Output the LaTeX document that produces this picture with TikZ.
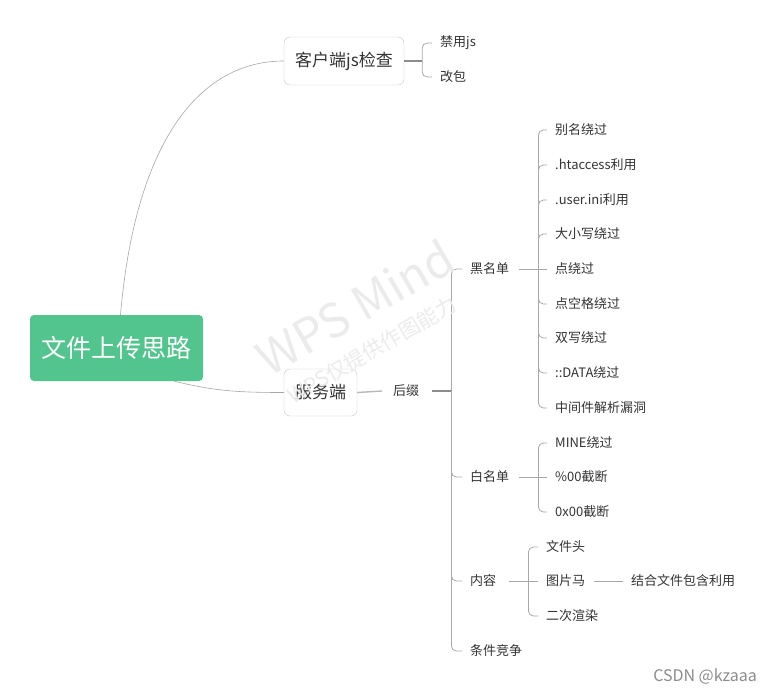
\documentclass[tikz,border=0pt]{standalone}
\usepackage{fontspec}
\setmainfont{Noto Sans CJK SC}
\usepackage{tikz}
\usetikzlibrary{calc, positioning}
\definecolor{mindgreen}{RGB}{82,196,141}
\definecolor{linegray}{RGB}{168,168,168}
\definecolor{txtgray}{RGB}{51,51,51}

\begin{document}
\begin{tikzpicture}[x=1pt, y=-1pt,
    rootbox/.style={fill=mindgreen, rounded corners=4pt, minimum width=173pt, minimum height=66pt, text=white, font=\fontsize{25}{25}\selectfont},
    topic/.style={draw=black!22, fill=white, rounded corners=6pt, minimum height=48pt, text=txtgray, font=\fontsize{17}{17}\selectfont},
    leaf/.style={anchor=west, inner sep=0pt, text=txtgray, font=\fontsize{13}{13}\selectfont},
    link/.style={draw=linegray, line width=0.8pt},
    stem/.style={draw=black!45, line width=1.5pt},
    curve/.style={draw=black!35, line width=0.6pt},
    wm/.style={text=black!8, inner sep=0pt, rotate=30}]
    \useasboundingbox (0,0) rectangle (774,696);
    \node[rootbox] (root) at (116.5,348) {文件上传思路};
    \node[topic, minimum width=120pt] (client) at (344,61) {客户端js检查};
    \node[topic, minimum width=73pt, minimum height=47pt] (server) at (320.5,392.5) {服务端};
    \node[leaf] (nojs)   at (440,43) {禁用js};
    \node[leaf] (repack) at (440,77) {改包};
    \node[leaf] (suffix) at (393,391) {后缀};
    \node[leaf] (black)   at (470,269) {黑名单};
    \node[leaf] (white)   at (470,477) {白名单};
    \node[leaf] (content) at (470,581) {内容};
    \node[leaf] (race)    at (470,651) {条件竞争};
    \node[leaf] (alias)   at (555,130) {别名绕过};
    \node[leaf] (htacc)   at (555,165) {.htaccess利用};
    \node[leaf] (userini) at (555,200) {.user.ini利用};
    \node[leaf] (case)    at (555,234) {大小写绕过};
    \node[leaf] (dot)     at (555,269) {点绕过};
    \node[leaf] (dotsp)   at (555,304) {点空格绕过};
    \node[leaf] (double)  at (555,338) {双写绕过};
    \node[leaf] (data)    at (555,373) {::DATA绕过};
    \node[leaf] (middle)  at (555,408) {中间件解析漏洞};
    \node[leaf] (mime)    at (555,443) {MINE绕过};
    \node[leaf] (pct)     at (555,477) {\%00截断};
    \node[leaf] (hex)     at (555,512) {0x00截断};
    \node[leaf] (header)  at (546,547) {文件头};
    \node[leaf] (imghorse) at (546,581) {图片马};
    \node[leaf] (rerender) at (546,616) {二次渲染};
    \node[leaf] (include) at (631,581) {结合文件包含利用};
    \node[anchor=east, inner sep=0pt, text=black!45, font=\fontsize{16}{16}\selectfont] (csdn) at (757,677) {CSDN @kzaaa};

    \draw[curve] ([xshift=4pt]root.north) .. controls ($(root.north)+(19,-174)$) and ($(client.west)+(-84,0)$) .. (client.west);
    \draw[curve] ([xshift=58pt]root.south) .. controls ($(root.south)+(98,10)$) and ($(server.west)+(-44,0)$) .. (server.west);

    \coordinate (cj) at ($(client.east)+(18,0)$);
    \draw[stem] (client.east) -- (cj);
    \draw[link, rounded corners=5pt] (cj) |- ([xshift=-8pt]nojs.west);
    \draw[link, rounded corners=5pt] (cj) |- ([xshift=-8pt]repack.west);

    \draw[draw=black!28, line width=1.4pt] (server.east) -- ([xshift=-11pt]suffix.west);
    \coordinate (hj) at ($(suffix.east)+(32,0)$);
    \draw[stem] ([xshift=13pt]suffix.east) -- (hj);
    \draw[link, rounded corners=5pt] (hj) |- ([xshift=-8pt]black.west);
    \draw[link, rounded corners=5pt] (hj) |- ([xshift=-8pt]white.west);
    \draw[link, rounded corners=5pt] (hj) |- ([xshift=-8pt]content.west);
    \draw[link, rounded corners=5pt] (hj) |- ([xshift=-8pt]race.west);

    \coordinate (bj) at ($(black.east)+(29,0)$);
    \draw[link] ([xshift=10pt]black.east) -- (bj);
    \draw[link, rounded corners=5pt] (bj) |- ([xshift=-8pt]alias.west);
    \draw[link, rounded corners=5pt] (bj) |- ([xshift=-8pt]htacc.west);
    \draw[link, rounded corners=5pt] (bj) |- ([xshift=-8pt]userini.west);
    \draw[link, rounded corners=5pt] (bj) |- ([xshift=-8pt]case.west);
    \draw[link] (bj) -- ([xshift=-8pt]dot.west);
    \draw[link, rounded corners=5pt] (bj) |- ([xshift=-8pt]dotsp.west);
    \draw[link, rounded corners=5pt] (bj) |- ([xshift=-8pt]double.west);
    \draw[link, rounded corners=5pt] (bj) |- ([xshift=-8pt]data.west);
    \draw[link, rounded corners=5pt] (bj) |- ([xshift=-8pt]middle.west);

    \coordinate (wj) at ($(white.east)+(29,0)$);
    \draw[link] ([xshift=10pt]white.east) -- (wj);
    \draw[link, rounded corners=5pt] (wj) |- ([xshift=-8pt]mime.west);
    \draw[link] (wj) -- ([xshift=-8pt]pct.west);
    \draw[link, rounded corners=5pt] (wj) |- ([xshift=-8pt]hex.west);

    \coordinate (nj) at ($(content.east)+(32,0)$);
    \draw[link] ([xshift=13pt]content.east) -- (nj);
    \draw[link, rounded corners=5pt] (nj) |- ([xshift=-8pt]header.west);
    \draw[link] (nj) -- ([xshift=-8pt]imghorse.west);
    \draw[link, rounded corners=5pt] (nj) |- ([xshift=-8pt]rerender.west);
    \draw[link] ([xshift=9pt]imghorse.east) -- ([xshift=-8pt]include.west);

    \node[wm, font=\fontsize{47}{47}\selectfont] (wpsmind) at (355,307) {WPS Mind};
    \node[wm, font=\fontsize{21}{21}\selectfont] (wpsnote) at (372,350) {WPS仅提供作图能力};
\end{tikzpicture}
\end{document}
